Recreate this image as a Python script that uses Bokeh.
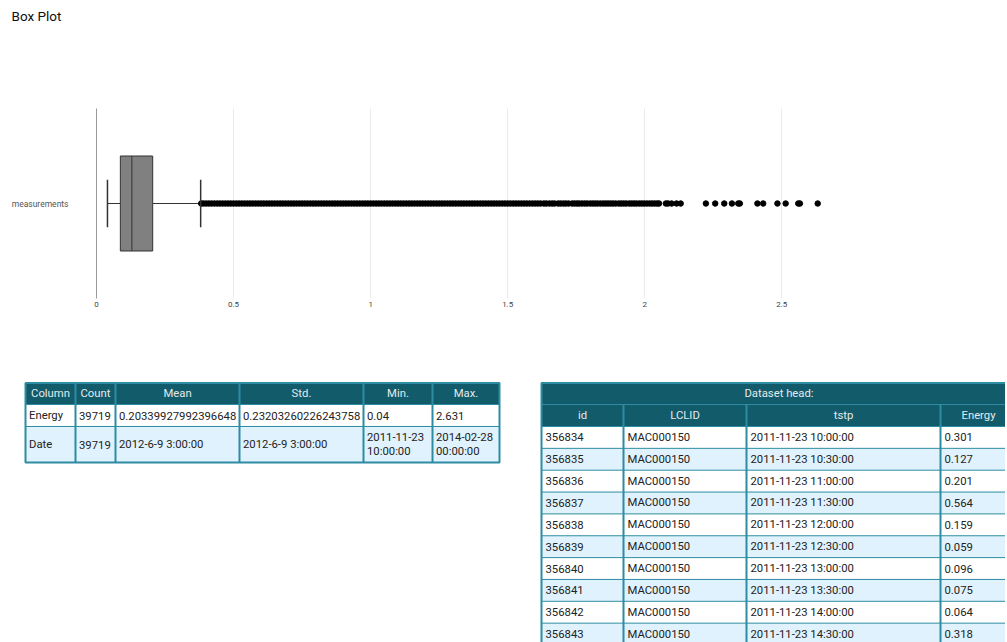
from bokeh.plotting import figure
from bokeh.models import Range1d, FactorRange, FixedTicker
from bokeh.layouts import column, row
from bokeh.embed import file_html
from bokeh.resources import INLINE
from bokeh.core.properties import value

# ---------------- data ----------------
title_text = "Box Plot"
categories = ["measurements"]
q1 = [0.087]
median = [0.129]
q3 = [0.205]
lower_whisker = [0.04]
upper_whisker = [0.38]
outliers = [
    0.382, 0.39, 0.40, 0.41, 0.42, 0.43, 0.44, 0.45, 0.46, 0.47, 0.48, 0.49,
    0.50, 0.51, 0.52, 0.53, 0.54, 0.55, 0.56, 0.57, 0.58, 0.59, 0.60, 0.61,
    0.62, 0.63, 0.64, 0.65, 0.66, 0.67, 0.68, 0.69, 0.70, 0.71, 0.72, 0.73,
    0.74, 0.75, 0.76, 0.77, 0.78, 0.79, 0.80, 0.81, 0.82, 0.83, 0.84, 0.85,
    0.86, 0.87, 0.88, 0.89, 0.90, 0.91, 0.92, 0.93, 0.94, 0.95, 0.96, 0.97,
    0.98, 0.99, 1.00, 1.01, 1.02, 1.03, 1.04, 1.05, 1.06, 1.07, 1.08, 1.09,
    1.10, 1.11, 1.12, 1.13, 1.14, 1.15, 1.16, 1.17, 1.18, 1.19, 1.20, 1.21,
    1.22, 1.23, 1.24, 1.25, 1.26, 1.27, 1.28, 1.29, 1.30, 1.31, 1.32, 1.33,
    1.34, 1.35, 1.36, 1.37, 1.38, 1.39, 1.40, 1.41, 1.42, 1.43, 1.44, 1.45,
    1.46, 1.47, 1.48, 1.49, 1.50, 1.51, 1.52, 1.53, 1.54, 1.55, 1.56, 1.57,
    1.58, 1.59, 1.60, 1.61, 1.62,
    1.632, 1.641, 1.652, 1.662, 1.671, 1.684, 1.693, 1.703, 1.712, 1.722, 1.735,
    1.744, 1.753, 1.761, 1.771, 1.781, 1.79, 1.801, 1.81, 1.819, 1.828, 1.838,
    1.848, 1.857, 1.866, 1.875, 1.884, 1.894, 1.905, 1.914, 1.923, 1.932, 1.943,
    1.952, 1.961, 1.97, 1.98, 1.989, 1.998, 2.008, 2.018, 2.027, 2.036, 2.045, 2.052,
    2.077, 2.085, 2.098, 2.116, 2.131,
    2.223, 2.257, 2.29, 2.318, 2.341, 2.347, 2.411, 2.432, 2.484, 2.514,
    2.56, 2.566, 2.631,
]
x_ticks = [0, 0.5, 1, 1.5, 2, 2.5]
x_tick_labels = ["0", "0.5", "1", "1.5", "2", "2.5"]

stats_header = ["Column", "Count", "Mean", "Std.", "Min.", "Max."]
stats_rows = [
    ["Energy", "39719", "0.20339927992396648", "0.23203260226243758", "0.04", "2.631"],
    ["Date", "39719", "2012-6-9 3:00:00", "2012-6-9 3:00:00", "2011-11-23 10:00:00", "2014-02-28 00:00:00"],
]

head_title = "Dataset head:"
head_header = ["id", "LCLID", "tstp", "Energy"]
head_id = ["356834", "356835", "356836", "356837", "356838", "356839", "356840", "356841", "356842", "356843"]
head_lclid = ["MAC000150"] * 10
head_tstp = ["2011-11-23 10:00:00", "2011-11-23 10:30:00", "2011-11-23 11:00:00", "2011-11-23 11:30:00",
             "2011-11-23 12:00:00", "2011-11-23 12:30:00", "2011-11-23 13:00:00", "2011-11-23 13:30:00",
             "2011-11-23 14:00:00", "2011-11-23 14:30:00"]
head_energy = ["0.301", "0.127", "0.201", "0.564", "0.159", "0.059", "0.096", "0.075", "0.064", "0.318"]

# ---------------- styles ----------------
FONT = "Roboto"
HEAD_BG = "#125b6b"
BORDER = "#2d8ca2"
BLUE_ROW = "#e0f2fd"
HEAD_TXT = "#e4eaec"
CELL_TXT = "#222222"
BOX_LINE = "#333333"
W = 1005
CELL_FONT = "11.3px"


def pixel_fig(w, h):
    p = figure(width=w, height=h, x_range=Range1d(0, w), y_range=Range1d(h, 0),
               x_axis_location=None, y_axis_location=None, toolbar_location=None,
               output_backend="svg", min_border=0, outline_line_color=None)
    p.grid.visible = False
    p.background_fill_color = "white"
    p.border_fill_color = "white"
    return p


# ---------------- title strip ----------------
p0 = pixel_fig(W, 38)
p0.text(x=[11], y=[15], text=[title_text], text_font=value(FONT), text_font_size="13.5px",
        text_baseline="middle", text_align="left", text_color="#111111")

# ---------------- box plot ----------------
pA = figure(width=W, height=342, x_range=Range1d(0, 2.86), y_range=FactorRange(factors=categories),
            toolbar_location=None, output_backend="svg",
            min_border_left=96, min_border_right=W - 880, min_border_top=70, min_border_bottom=82)
pA.outline_line_color = None
pA.ygrid.visible = False
pA.xgrid.grid_line_color = "#ebebeb"
pA.xaxis.ticker = FixedTicker(ticks=x_ticks)
pA.xaxis.major_label_overrides = {t: l for t, l in zip(x_ticks, x_tick_labels)}
pA.xaxis.axis_line_color = None
pA.xaxis.major_tick_line_color = None
pA.xaxis.minor_tick_line_color = None
pA.xaxis.major_tick_out = 0
pA.xaxis.major_label_standoff = 3
pA.xaxis.major_label_text_font = FONT
pA.xaxis.major_label_text_font_size = "8px"
pA.xaxis.major_label_text_color = "#444444"
pA.yaxis.axis_line_color = "#999999"
pA.yaxis.major_tick_line_color = None
pA.yaxis.minor_tick_line_color = None
pA.yaxis.major_tick_out = 0
pA.yaxis.major_label_standoff = 28
pA.yaxis.major_label_text_font = FONT
pA.yaxis.major_label_text_font_size = "8.5px"
pA.yaxis.major_label_text_color = "#555555"

cat = categories[0]
pA.segment(x0=lower_whisker, y0=categories, x1=q1, y1=categories, line_color=BOX_LINE, line_width=1)
pA.segment(x0=q3, y0=categories, x1=upper_whisker, y1=categories, line_color=BOX_LINE, line_width=1)
pA.hbar(y=categories, left=q1, right=q3, height=0.5, fill_color="#808080", line_color=BOX_LINE, line_width=1)
pA.segment(x0=median, y0=[(cat, -0.25)], x1=median, y1=[(cat, 0.25)], line_color=BOX_LINE, line_width=1)
pA.scatter(x=outliers, y=[cat] * len(outliers), size=5.5, fill_color="black", line_color="black")
pA.segment(x0=lower_whisker, y0=[(cat, -0.125)], x1=lower_whisker, y1=[(cat, 0.125)], line_color=BOX_LINE, line_width=1.5)
pA.segment(x0=upper_whisker, y0=[(cat, -0.125)], x1=upper_whisker, y1=[(cat, 0.125)], line_color=BOX_LINE, line_width=1.5)


# ---------------- tables ----------------
def edges(start, sizes):
    e = [start]
    for s in sizes:
        e.append(e[-1] + s)
    return e


def wrap(txt, width):
    if " " in txt and len(txt) * 6.2 + 8 > width:
        return txt.replace(" ", "\n", 1)
    return txt


def draw_grid(p, xe, ye, fills, v_top):
    p.quad(left=[xe[0]] * len(fills), right=[xe[-1]] * len(fills), top=ye[:-1], bottom=ye[1:],
           fill_color=fills, line_color=None)
    n = len(ye) - 2
    p.segment(x0=[xe[0]] * n, y0=ye[1:-1], x1=[xe[-1]] * n, y1=ye[1:-1], line_color=BORDER, line_width=1)
    m = len(xe) - 2
    p.segment(x0=xe[1:-1], y0=[v_top] * m, x1=xe[1:-1], y1=[ye[-1]] * m, line_color=BORDER, line_width=2)
    p.quad(left=[xe[0]], right=[xe[-1]], top=[ye[0]], bottom=[ye[-1]], fill_color=None,
           line_color=BORDER, line_width=2)


def draw_texts(p, xs, ys, texts, color, align):
    p.text(x=xs, y=ys, text=texts, text_font=value(FONT), text_font_size=CELL_FONT,
           text_baseline="middle", text_align=align, text_color=color, text_line_height=1.15)


ROW_H = 262

# table 1 : statistics
pB = pixel_fig(520, ROW_H)
t1_xe = edges(25, [50, 40, 124, 124, 69, 67])
t1_ye = edges(2.5, [21.5, 22, 36])
draw_grid(pB, t1_xe, t1_ye, [HEAD_BG, "white", BLUE_ROW], t1_ye[0])
cx = [(a + b) / 2 for a, b in zip(t1_xe[:-1], t1_xe[1:])]
draw_texts(pB, cx, [(t1_ye[0] + t1_ye[1]) / 2] * len(cx), stats_header, HEAD_TXT, "center")
for r, vals in enumerate(stats_rows):
    ym = (t1_ye[r + 1] + t1_ye[r + 2]) / 2
    xs = [x + 3.5 for x in t1_xe[:-1]]
    ws = [b - a for a, b in zip(t1_xe[:-1], t1_xe[1:])]
    draw_texts(pB, xs, [ym] * len(xs), [wrap(v, w) for v, w in zip(vals, ws)], CELL_TXT, "left")

# table 2 : dataset head
pC = pixel_fig(W - 520, ROW_H)
t2_xe = edges(21, [82, 123, 194, 76])
nrows = len(head_id)
t2_ye = edges(2.5, [21.5, 22] + [21.85] * nrows)
fills2 = [HEAD_BG, HEAD_BG] + ["white" if i % 2 == 0 else BLUE_ROW for i in range(nrows)]
draw_grid(pC, t2_xe, t2_ye, fills2, t2_ye[1])
draw_texts(pC, [(t2_xe[0] + t2_xe[-1]) / 2], [(t2_ye[0] + t2_ye[1]) / 2], [head_title], HEAD_TXT, "center")
cx2 = [(a + b) / 2 for a, b in zip(t2_xe[:-1], t2_xe[1:])]
draw_texts(pC, cx2, [(t2_ye[1] + t2_ye[2]) / 2] * len(cx2), head_header, HEAD_TXT, "center")
for c, colvals in enumerate([head_id, head_lclid, head_tstp, head_energy]):
    ys = [(t2_ye[i + 2] + t2_ye[i + 3]) / 2 for i in range(nrows)]
    draw_texts(pC, [t2_xe[c] + 4] * nrows, ys, colvals, CELL_TXT, "left")

layout = column(row(p0), pA, row(pB, pC))
open("out.html", "w").write(file_html(layout, INLINE))
